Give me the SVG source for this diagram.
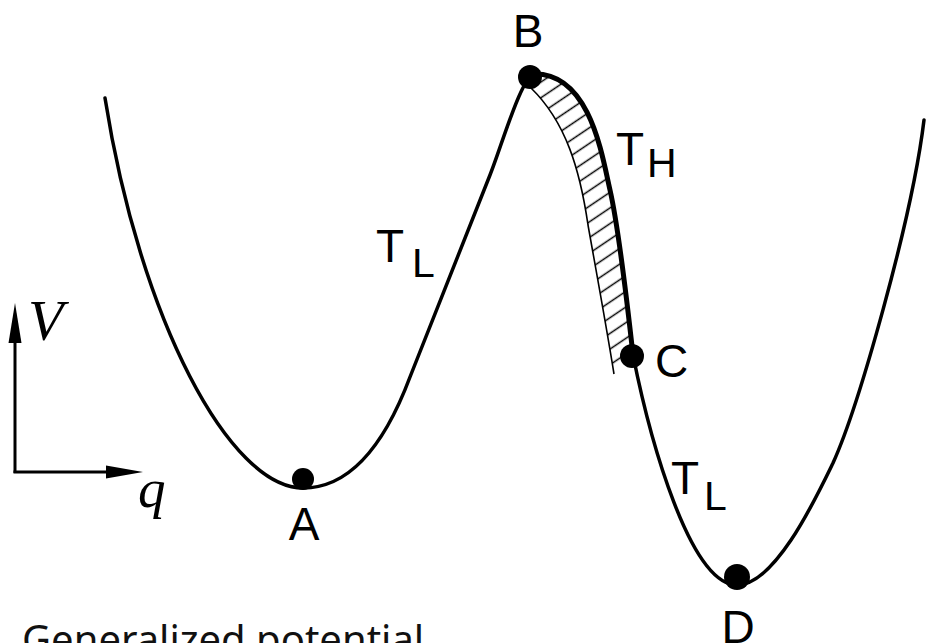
<svg xmlns="http://www.w3.org/2000/svg" width="926" height="643" viewBox="0 0 926 643">
  <style>
    .lbl { font-family: "Liberation Sans", Arial, sans-serif; font-size: 46px; fill: #000; }
    .sub { font-family: "Liberation Sans", Arial, sans-serif; font-size: 41px; fill: #000; }
    .math { font-family: "Liberation Serif", "Times New Roman", serif; font-style: italic; fill: #000; }
    .cap { font-family: "Noto Sans", "Open Sans", sans-serif; font-size: 40px; fill: #111; }
    .curve { fill: none; stroke: #000; stroke-width: 3.5; stroke-linecap: round; stroke-linejoin: round; }
    .axis { fill: none; stroke: #000; stroke-width: 3; }
    .dot { fill: #000; }
  </style>
  <defs>
    <pattern id="hatch" patternUnits="userSpaceOnUse" width="200" height="13" patternTransform="rotate(-34)">
      <line x1="0" y1="6.5" x2="200" y2="6.5" stroke="#000" stroke-width="1.4"/>
    </pattern>
  </defs>
  <rect width="926" height="643" fill="#fff"/>

  <g id="hatched-region">
    <path d="M535,74 C590,74 602,155 610,190 C618,225 628,310 633,355 L614,374 C607,330 596,270 588,225 C580,170 566,122 531,88 Z" fill="url(#hatch)"/>
    <path d="M614,374 C607,330 596,270 588,225 C580,170 566,122 531,88" fill="none" stroke="#000" stroke-width="1.6"/>
  </g>

  <g id="connectors">
    <path class="curve" d="M105,98 C140,320 230,488 303,488 C360,488 392,425 410,377 L490,175 C502,145 522,74 535,74"/>
    <path class="curve" style="stroke-width:5" d="M535,74 C590,74 602,155 610,190 C618,225 628,310 633,355"/>
    <path class="curve" d="M633,355 C650,440 690,585 737,585 C775,585 815,500 833,463 C858,408 912,220 924,120"/>
    <g id="axes">
      <line class="axis" x1="15" y1="473" x2="15" y2="330"/>
      <polygon points="15,303 8.5,343 21.5,343" fill="#000"/>
      <line class="axis" x1="13.5" y1="472" x2="115" y2="472"/>
      <polygon points="143,472 106,465.5 106,478.5" fill="#000"/>
    </g>
  </g>

  <g id="node-A">
    <circle class="dot" cx="303" cy="479" r="11"/>
    <text class="lbl" x="304" y="540" text-anchor="middle">A</text>
  </g>
  <g id="node-B">
    <circle class="dot" cx="530" cy="77" r="12"/>
    <text class="lbl" x="528" y="47" text-anchor="middle">B</text>
  </g>
  <g id="node-C">
    <circle class="dot" cx="632" cy="356" r="12"/>
    <text class="lbl" x="655" y="377">C</text>
  </g>
  <g id="node-D">
    <circle class="dot" cx="737" cy="577" r="13"/>
    <text class="lbl" x="738" y="643" text-anchor="middle">D</text>
  </g>

  <g id="label-TL-left">
    <text class="lbl" x="376" y="262">T</text>
    <text class="sub" x="412" y="277">L</text>
  </g>
  <g id="label-TH">
    <text class="lbl" x="616" y="165">T</text>
    <text class="sub" x="647" y="177">H</text>
  </g>
  <g id="label-TL-right">
    <text class="lbl" x="671" y="494">T</text>
    <text class="sub" x="704" y="510">L</text>
  </g>

  <g id="axis-labels">
    <text class="math" x="28" y="340" font-size="58">V</text>
    <text class="math" x="138" y="507" font-size="55">q</text>
  </g>

  <g id="caption">
    <text class="cap" x="22" y="654">Generalized potential</text>
  </g>
</svg>
